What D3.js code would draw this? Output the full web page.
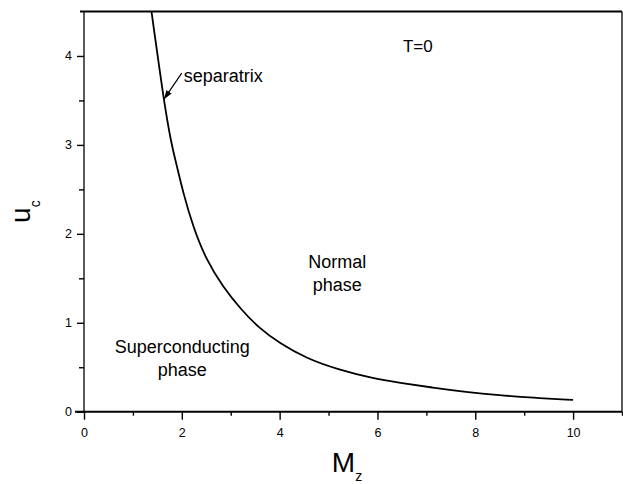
<!DOCTYPE html>
<html>
<head>
<meta charset="utf-8">
<script src="https://cdn.jsdelivr.net/npm/d3@7"></script>
<style>
  body { margin: 0; background: #fff; }
  svg { display: block; font-family: "Liberation Sans", Arial, sans-serif; }
</style>
</head>
<body>
<div id="chart"></div>
<script>
// separatrix u_c(M_z) at T=0
const mz = [1.38, 1.63, 1.79, 1.87, 2.03, 2.23, 2.50, 2.84, 3.22, 3.59, 4.00, 4.54, 5.22, 5.90, 6.45, 7.13, 7.81, 8.49, 9.17, 10.0]
const uc = [4.50, 3.50, 3.00, 2.83, 2.455, 2.08, 1.705, 1.405, 1.143, 0.935, 0.769, 0.600, 0.469, 0.375, 0.326, 0.270, 0.222, 0.185, 0.157, 0.132]

const xMajor = [0, 2, 4, 6, 8, 10]
const xMinor = [1, 3, 5, 7, 9, 11]
const yMajor = [0, 1, 2, 3, 4]
const yMinor = [0.5, 1.5, 2.5, 3.5]

const width = 623, height = 484
const margin = { top: 11.5, right: 1, bottom: 72.3, left: 84 }
const innerWidth = width - margin.left - margin.right
const innerHeight = height - margin.top - margin.bottom

const svg = d3.select("#chart").append("svg")
    .attr("width", width)
    .attr("height", height)

const x = d3.scaleLinear().domain([0, 11]).range([0, innerWidth])
const y = d3.scaleLinear().domain([0, 4.5]).range([innerHeight, 0])

const g = svg.append("g")
    .attr("transform", `translate(${margin.left},${margin.top})`)

// ejes
const xAxis = g.append("g")
    .attr("transform", `translate(0,${innerHeight})`)
    .call(d3.axisBottom(x).tickValues(xMajor).tickSize(8).tickSizeOuter(0).tickPadding(8).tickFormat(d3.format("d")))
    .attr("font-family", null)
    .attr("font-size", 12.5)
xAxis.select(".domain").remove()
xAxis.selectAll("line").attr("stroke-width", 1.4)
xAxis.selectAll("text").attr("fill", "#000")

g.append("g")
    .attr("transform", `translate(0,${innerHeight})`)
    .call(d3.axisBottom(x).tickValues(xMinor).tickSize(4).tickFormat(""))
    .call(a => a.select(".domain").remove())
    .selectAll("line").attr("stroke-width", 1.4)

const yAxis = g.append("g")
    .call(d3.axisLeft(y).tickValues(yMajor).tickSize(7).tickSizeOuter(0).tickPadding(5).tickFormat(d3.format("d")))
    .attr("font-family", null)
    .attr("font-size", 12.5)
yAxis.select(".domain").remove()
yAxis.selectAll("line").attr("stroke-width", 1.4)
yAxis.selectAll("text").attr("fill", "#000")

g.append("g")
    .call(d3.axisLeft(y).tickValues(yMinor).tickSize(5).tickFormat(""))
    .call(a => a.select(".domain").remove())
    .selectAll("line").attr("stroke-width", 1.4)

// marco
g.append("line").attr("x1", -9).attr("x2", innerWidth).attr("y1", y(0)).attr("y2", y(0))
    .attr("stroke", "#000").attr("stroke-width", 2)
g.append("line").attr("x1", -4).attr("x2", innerWidth).attr("y1", y(4.5)).attr("y2", y(4.5))
    .attr("stroke", "#000").attr("stroke-width", 2.2)
g.append("line").attr("x1", x(0)).attr("x2", x(0)).attr("y1", y(4.5)).attr("y2", y(0))
    .attr("stroke", "#000").attr("stroke-width", 1.3)
g.append("line").attr("x1", x(11)).attr("x2", x(11)).attr("y1", y(4.5)).attr("y2", y(0))
    .attr("stroke", "#000").attr("stroke-width", 1.3)

// curva
const pts = mz.map((m, i) => [m, uc[i]])
g.append("path")
    .datum(pts)
    .attr("fill", "none")
    .attr("stroke", "#000")
    .attr("stroke-width", 1.8)
    .attr("d", d3.line().x(d => x(d[0])).y(d => y(d[1])).curve(d3.curveBasis))

// anotaciones
const label = (m, u, txt, anchor, size) => g.append("text")
    .attr("x", x(m)).attr("y", y(u))
    .attr("text-anchor", anchor)
    .attr("font-size", size)
    .attr("fill", "#000")
    .text(txt)

label(6.52, 4.045, "T=0", "start", 17)
label(2.04, 3.71, "separatrix", "start", 18)
label(5.18, 1.613, "Normal", "middle", 18)
label(5.18, 1.355, "phase", "middle", 18)
label(2.01, 0.657, "Superconducting", "middle", 18)
label(2.01, 0.405, "phase", "middle", 18)

// flecha
svg.append("defs").append("marker")
    .attr("id", "arrow")
    .attr("viewBox", "0 0 10 10")
    .attr("refX", 10).attr("refY", 5)
    .attr("markerWidth", 9).attr("markerHeight", 9)
    .attr("markerUnits", "userSpaceOnUse")
    .attr("orient", "auto")
    .append("path").attr("d", "M0,1.5L10,5L0,8.5Z").attr("fill", "#000")

g.append("line")
    .attr("x1", x(1.998)).attr("y1", y(3.807))
    .attr("x2", x(1.636)).attr("y2", y(3.514))
    .attr("stroke", "#000").attr("stroke-width", 1.2)
    .attr("marker-end", "url(#arrow)")

// títulos de ejes
const xt = svg.append("text")
    .attr("x", margin.left + innerWidth / 2 - 6)
    .attr("y", 472)
    .attr("text-anchor", "middle")
    .attr("font-size", 28)
xt.append("tspan").text("M")
xt.append("tspan").attr("font-size", 14).attr("dy", 9).text("z")

const yt = svg.append("text")
    .attr("transform", `translate(30,${margin.top + innerHeight / 2}) rotate(-90)`)
    .attr("text-anchor", "middle")
    .attr("font-size", 28)
yt.append("tspan").text("u")
yt.append("tspan").attr("font-size", 14).attr("dy", 10).text("c")
</script>
</body>
</html>
